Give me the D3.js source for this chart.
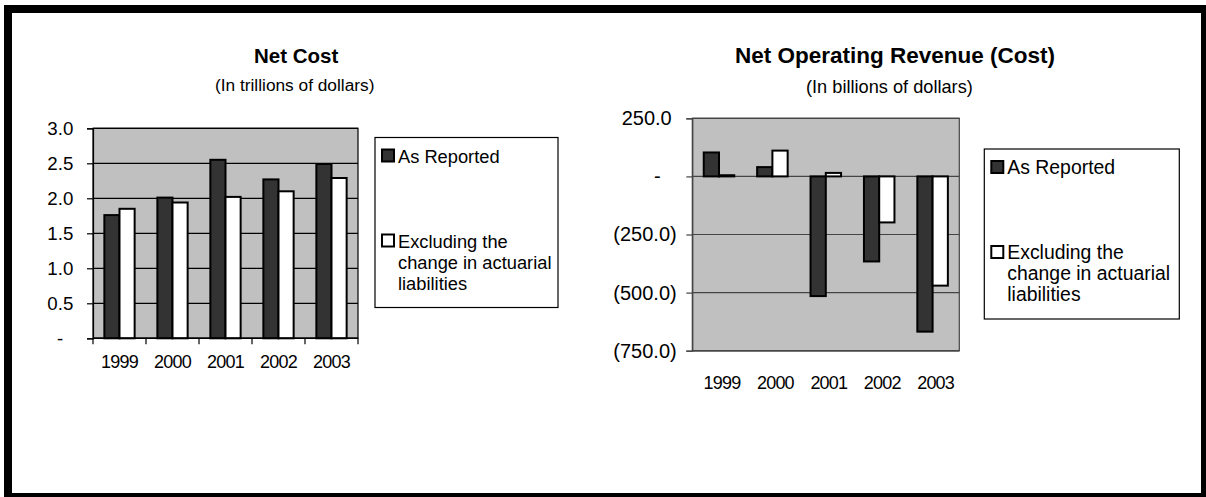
<!DOCTYPE html>
<html>
<head>
<meta charset="utf-8">
<script src="https://cdn.jsdelivr.net/npm/d3@7"></script>
<style>
  body { margin: 0; background: #fff; }
  svg text { font-family: "Liberation Sans", Arial, sans-serif; fill: #000; }
</style>
</head>
<body>
<svg id="chart" width="1206" height="497"></svg>
<script>
// Shared categories and series names
const years = ["1999", "2000", "2001", "2002", "2003"];
const seriesNames = ["As Reported", "Excluding the change in actuarial liabilities"];

// Net Cost, trillions of dollars
const netCostReported = [1.76, 2.01, 2.55, 2.27, 2.49];
const netCostExcluding = [1.85, 1.94, 2.02, 2.10, 2.29];
const netCostTicks = [0, 0.5, 1.0, 1.5, 2.0, 2.5, 3.0];

// Net Operating Revenue (Cost), billions of dollars
const revenueReported = [103, 40, -515, -366, -668];
const revenueExcluding = [5, 111, 15, -198, -470];
const revenueTicks = [-750, -500, -250, 0, 250];

const svg = d3.select("#chart");

// Outer heavy frame
svg.append("rect")
    .attr("x", 8).attr("y", 9)
    .attr("width", 1197).attr("height", 488)
    .attr("fill", "none")
    .attr("stroke", "#000")
    .attr("stroke-width", 8);

const fillFor = ["#333333", "#ffffff"];

function drawChart(cfg) {
    const g = svg.append("g");
    const rows = years.map((yr, i) => ({ year: yr, values: [cfg.a[i], cfg.b[i]] }));

    const x = d3.scaleBand().domain(years).range([cfg.x0, cfg.x1]).padding(0);
    // Excel style gap width 150%: bars are band / 3.5 wide
    const xs = d3.scaleBand().domain([0, 1]).range([0, x.bandwidth()])
        .paddingInner(0).paddingOuter(0.75);
    const y = d3.scaleLinear().domain(cfg.domain).range([cfg.yBottom, cfg.yTop]);

    // Titles
    g.append("text")
        .attr("x", cfg.titleX).attr("y", 63)
        .attr("font-size", cfg.titleSize).attr("font-weight", "bold")
        .text(cfg.title);
    g.append("text")
        .attr("x", cfg.subX).attr("y", cfg.subY)
        .attr("font-size", cfg.subSize)
        .text(cfg.subtitle);

    // Plot area
    g.append("rect")
        .attr("x", cfg.x0).attr("y", cfg.yTop)
        .attr("width", cfg.x1 - cfg.x0).attr("height", cfg.yBottom - cfg.yTop)
        .attr("fill", "#c0c0c0")
        .attr("stroke", cfg.lineColor).attr("stroke-width", 1.2);

    // Gridlines
    g.append("g").selectAll("line")
        .data(cfg.ticks)
        .join("line")
        .attr("x1", cfg.x0).attr("x2", cfg.x1)
        .attr("y1", d => y(d)).attr("y2", d => y(d))
        .attr("stroke", cfg.lineColor).attr("stroke-width", 1.2);

    // Bars
    const groups = g.append("g").selectAll("g")
        .data(rows)
        .join("g")
        .attr("transform", d => `translate(${x(d.year)},0)`);
    groups.selectAll("rect")
        .data(d => d.values)
        .join("rect")
        .attr("x", (d, i) => xs(i))
        .attr("width", xs.bandwidth())
        .attr("y", d => y(Math.max(0, d)))
        .attr("height", d => Math.abs(y(d) - y(0)))
        .attr("fill", (d, i) => fillFor[i])
        .attr("stroke", "#000")
        .attr("stroke-width", 2);

    // Y axis
    const yAxis = g.append("g")
        .attr("transform", `translate(${cfg.x0},0)`)
        .call(d3.axisLeft(y).tickValues(cfg.ticks).tickSize(6).tickFormat(cfg.fmt));
    yAxis.select(".domain").attr("stroke", cfg.lineColor).attr("stroke-width", 1.2);
    yAxis.selectAll(".tick line").attr("stroke", cfg.lineColor).attr("stroke-width", 1.2);
    yAxis.selectAll(".tick text")
        .attr("font-size", cfg.tickSize)
        .attr("font-family", "Liberation Sans, Arial, sans-serif")
        .attr("x", d => -cfg.labelOffset(d));

    // X axis line at the bottom of the plot
    g.append("line")
        .attr("x1", cfg.x0).attr("x2", cfg.x1)
        .attr("y1", cfg.yBottom).attr("y2", cfg.yBottom)
        .attr("stroke", cfg.lineColor).attr("stroke-width", 1.5);

    if (cfg.catTicks) {
        const edges = years.map(d => x(d)).concat([cfg.x1]);
        g.append("g").selectAll("line")
            .data(edges)
            .join("line")
            .attr("x1", d => d).attr("x2", d => d)
            .attr("y1", cfg.yBottom).attr("y2", cfg.yBottom + 6)
            .attr("stroke", "#000").attr("stroke-width", 1.2);
    }

    // Year labels
    g.append("g").selectAll("text")
        .data(years)
        .join("text")
        .attr("x", d => x(d) + x.bandwidth() / 2 + cfg.labelShift)
        .attr("y", cfg.yBottom + cfg.labelDrop)
        .attr("text-anchor", "middle")
        .attr("font-size", "18px")
        .attr("letter-spacing", "-0.8px")
        .text(d => d);

    // Legend
    const lg = g.append("g").attr("transform", `translate(${cfg.legX},${cfg.legY})`);
    lg.append("rect")
        .attr("width", cfg.legW).attr("height", cfg.legH)
        .attr("fill", "#fff").attr("stroke", "#000").attr("stroke-width", 1.2);
    const items = [
        { name: seriesNames[0], lines: ["As Reported"], dy: 12 },
        { name: seriesNames[1], lines: ["Excluding the", "change in actuarial", "liabilities"], dy: 97 }
    ];
    items.forEach((it, i) => {
        lg.append("rect")
            .attr("x", 7).attr("y", it.dy)
            .attr("width", 12).attr("height", 12)
            .attr("fill", fillFor[i]).attr("stroke", "#000").attr("stroke-width", 2);
        const t = lg.append("text")
            .attr("x", 23).attr("y", it.dy + 13)
            .attr("font-size", cfg.legSize);
        it.lines.forEach((ln, j) => {
            t.append("tspan").attr("x", 23).attr("dy", j === 0 ? 0 : 21).text(ln);
        });
    });
}

drawChart({
    title: "Net Cost",
    subtitle: "(In trillions of dollars)",
    titleX: 254, subX: 215, subY: 91,
    titleSize: "20.5px", subSize: "17.3px", tickSize: "18.7px", legSize: "18.3px",
    a: netCostReported, b: netCostExcluding,
    domain: [0, 3], ticks: netCostTicks,
    x0: 93, x1: 358, yTop: 128.3, yBottom: 338.3,
    lineColor: "#000",
    fmt: d => d === 0 ? "-" : d3.format(".1f")(d),
    labelOffset: d => d === 0 ? 29.7 : 19.7,
    catTicks: true, labelShift: 0, labelDrop: 30,
    legX: 375, legY: 137.5, legW: 183, legH: 170
});

drawChart({
    title: "Net Operating Revenue (Cost)",
    subtitle: "(In billions of dollars)",
    titleX: 735, subX: 806, subY: 92.5,
    titleSize: "22.5px", subSize: "18.2px", tickSize: "20px", legSize: "19.4px",
    a: revenueReported, b: revenueExcluding,
    domain: [-750, 250], ticks: revenueTicks,
    x0: 692.3, x1: 959.3, yTop: 118.3, yBottom: 350.7,
    lineColor: "#444",
    fmt: d => d === 0 ? "-" : d < 0 ? `(${d3.format(",.1f")(-d)})` : d3.format(",.1f")(d),
    labelOffset: d => d === 0 ? 31.6 : d < 0 ? 15.6 : 20.6,
    catTicks: false, labelShift: 3, labelDrop: 38.5,
    legX: 984.3, legY: 149, legW: 195, legH: 170
});
</script>
</body>
</html>
